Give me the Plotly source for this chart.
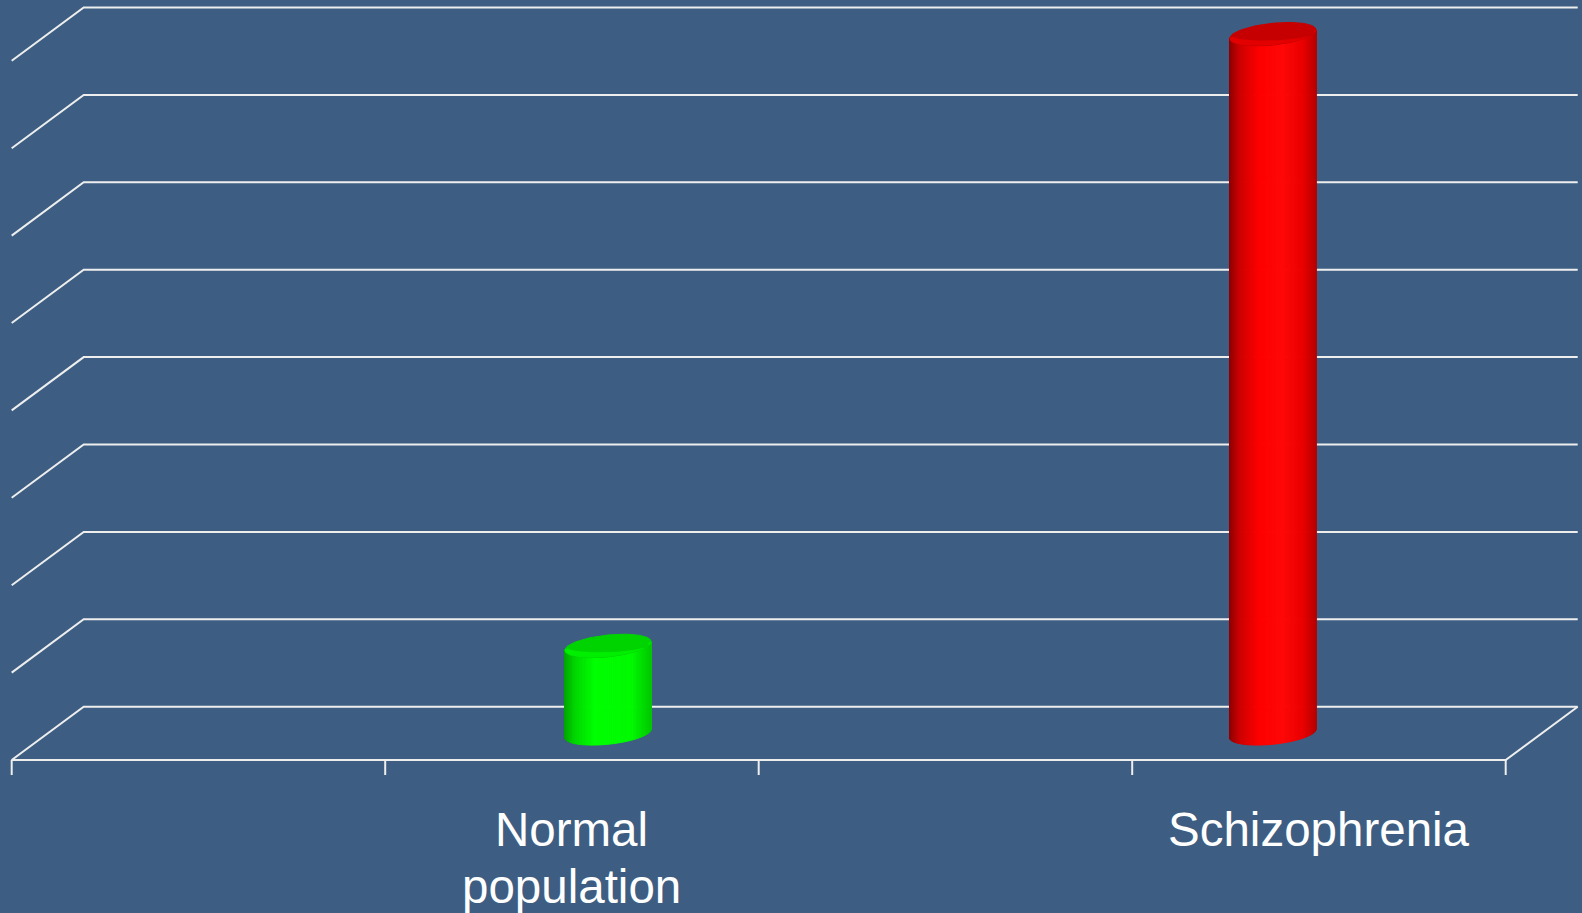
import numpy as np
import plotly.graph_objects as go

# ---------------- data ----------------
categories = ["Normal\npopulation", "Schizophrenia"]
values = [1, 8]
grid_values = [0, 1, 2, 3, 4, 5, 6, 7, 8]
slot_edges = [0, 1, 2, 3, 4]

# ---------------- layout / style constants ----------------
W, H = 1582, 913
BG = "rgb(61,94,130)"
LINE = "rgb(238,238,238)"
PX0, PXU = 11.7, 373.5      # px of x=0, px per x unit
PY0, PYU = 706.7, 87.4      # px of y=0 (back plane), px per value unit
DX = 72 / PXU               # depth offset in x units
DY = 53.3 / PYU             # depth offset in value units
TICK = 15 / PYU
label_x = [1.5, 3.5]
bar_x = [1.5, 3.28]
RX = 40.2 / PXU
RD = 0.22
FONT = "Liberation Sans, Arial, sans-serif"
FONT_SIZE = 47.5
LABEL_Y0 = -1.075           # top of first label line (value units)
LINE_STEP = 57 / PYU        # spacing between label lines

profiles = {
    "green": dict(side=[(0.0, (0, 165, 0)), (0.12, (0, 215, 0)), (0.35, (0, 255, 0)),
                        (0.78, (0, 250, 0)), (1.0, (0, 200, 0))],
                  top=(0, 212, 0), rim=(0, 238, 0)),
    "red": dict(side=[(0.0, (140, 0, 0)), (0.12, (205, 0, 0)), (0.35, (255, 0, 0)),
                      (0.62, (255, 8, 8)), (0.85, (235, 0, 0)), (1.0, (185, 0, 0))],
                top=(198, 0, 0), rim=(226, 0, 0)),
}
bar_styles = ["green", "red"]


def interp(prof, s):
    for (s0, c0), (s1, c1) in zip(prof[:-1], prof[1:]):
        if s0 <= s <= s1:
            f = (s - s0) / (s1 - s0) if s1 > s0 else 0
            return tuple(int(round(a + (b - a) * f)) for a, b in zip(c0, c1))
    return prof[-1][1]


def ell(xf, v, th, rd=RD):
    t = 0.5 + rd * np.sin(th)
    x = xf + RX * np.cos(th) + t * DX
    y = v - (1 - t) * DY
    return x, y


fig = go.Figure()


def line(xs, ys, width=2):
    fig.add_trace(go.Scatter(x=xs, y=ys, mode="lines", line=dict(color=LINE, width=width),
                             hoverinfo="skip", showlegend=False))


# gridlines (back wall + left wall diagonals)
for v in grid_values:
    line([0, DX, slot_edges[-1] + DX], [v - DY, v, v])
# floor front edge and right diagonal
line([0, slot_edges[-1], slot_edges[-1] + DX], [-DY, -DY, 0])
# tick marks
for e in slot_edges:
    line([e, e], [-DY, -DY - TICK])


def rgb(c):
    return "rgb(%d,%d,%d)" % c


# cylinders
th0 = np.arctan2(RD * DX, RX)
N = 70
for xf, v, sty in zip(bar_x, values, bar_styles):
    prof = profiles[sty]
    ths = np.linspace(th0 + np.pi, th0 + 2 * np.pi, N + 1)
    xl, _ = ell(xf, 0, th0 + np.pi)
    xr, _ = ell(xf, 0, th0)
    for i in range(N):
        a, b = ths[i], ths[i + 1]
        tx, ty = ell(xf, v, np.array([a, b]))
        bx, by = ell(xf, 0, np.array([b, a]))
        xs = list(tx) + list(bx) + [tx[0]]
        ys = list(ty) + list(by) + [ty[0]]
        s = ((tx[0] + tx[1]) / 2 - xl) / (xr - xl)
        c = rgb(interp(prof["side"], s))
        fig.add_trace(go.Scatter(x=xs, y=ys, mode="lines", fill="toself", fillcolor=c,
                                 line=dict(color=c, width=1), hoverinfo="skip",
                                 showlegend=False))
    # top ellipse
    tt = np.linspace(0, 2 * np.pi, 120)
    ex, ey = ell(xf, v, tt)
    fig.add_trace(go.Scatter(x=ex, y=ey, mode="lines", fill="toself", fillcolor=rgb(prof["top"]),
                             line=dict(color=rgb(prof["top"]), width=1), hoverinfo="skip",
                             showlegend=False))
    # lighter rim near the front of the top face
    fa = np.linspace(th0 + np.pi, th0 + 2 * np.pi, 60)
    ox, oy = ell(xf, v, fa)
    ix, iy = ell(xf, v, fa[::-1], rd=RD * 0.55)
    fig.add_trace(go.Scatter(x=np.concatenate([ox, ix]), y=np.concatenate([oy, iy]),
                             mode="lines", fill="toself", fillcolor=rgb(prof["rim"]),
                             line=dict(color=rgb(prof["rim"]), width=0), hoverinfo="skip",
                             showlegend=False))

# category labels (one annotation per text line, to control line spacing)
for lx, cat in zip(label_x, categories):
    for k, part in enumerate(cat.split("\n")):
        fig.add_annotation(x=lx, y=LABEL_Y0 - k * LINE_STEP, xref="x", yref="y", text=part,
                           showarrow=False, yanchor="top", xanchor="center",
                           font=dict(family=FONT, size=FONT_SIZE, color="white"))

fig.update_layout(
    width=W, height=H, margin=dict(l=0, r=0, t=0, b=0),
    paper_bgcolor=BG, plot_bgcolor=BG,
    xaxis=dict(range=[-PX0 / PXU, (W - PX0) / PXU], visible=False, fixedrange=True),
    yaxis=dict(range=[(PY0 - H) / PYU, PY0 / PYU], visible=False, fixedrange=True),
    showlegend=False,
)

fig.write_html("out.html")
